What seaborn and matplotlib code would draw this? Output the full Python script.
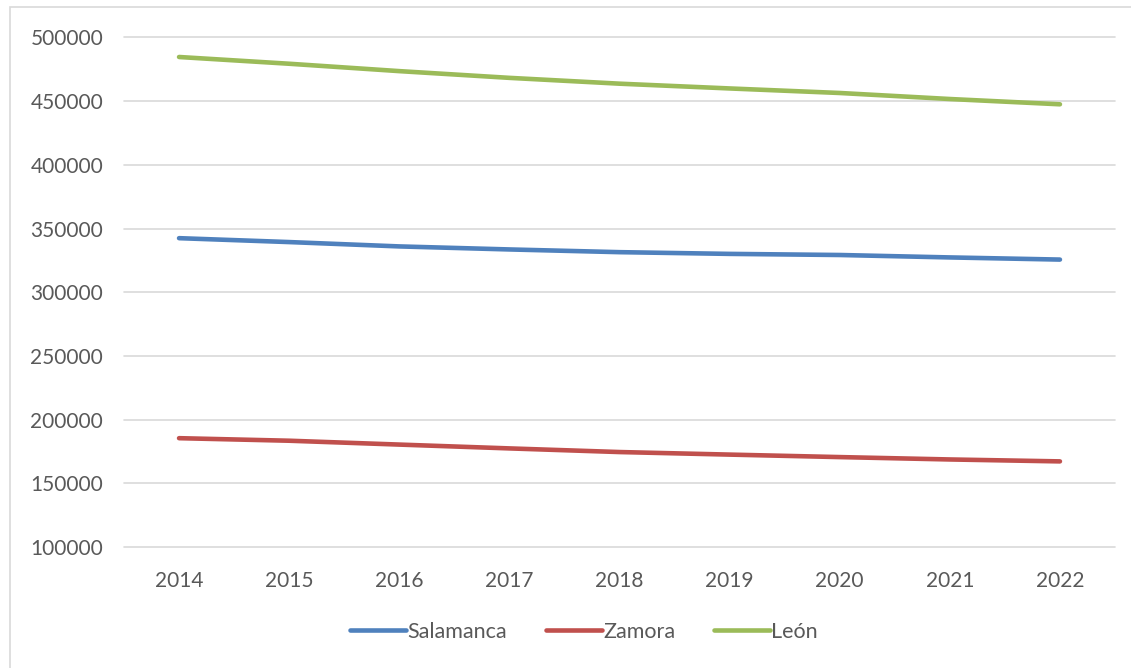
import matplotlib
matplotlib.use("Agg")
import matplotlib.pyplot as plt
import matplotlib.patches as mpatches
import seaborn as sns
import pandas as pd

# datos de poblacion por provincia
years = [2014, 2015, 2016, 2017, 2018, 2019, 2020, 2021, 2022]
salamanca = [342459, 339395, 335985, 333603, 331473, 330119, 329245, 327338, 325648]
zamora = [185432, 183436, 180406, 177404, 174549, 172539, 170588, 168725, 167215]
leon = [484694, 479395, 473604, 468316, 463746, 460001, 456439, 451706, 447560]
provincias = ["Salamanca", "Zamora", "León"]
colores = ["#4F81BD", "#C0504D", "#9BBB59"]

df = pd.DataFrame({
    "pos": list(range(len(years))) * 3,
    "valor": salamanca + zamora + leon,
    "provincia": [p for p in provincias for _ in years],
})

sns.set_style("white")
plt.rcParams["font.family"] = ["Lato", "DejaVu Sans"]

fig = plt.figure(figsize=(11.31, 6.68), dpi=100)
ax = fig.add_axes([124 / 1131, 1 - 547 / 668, (1115 - 124) / 1131, (547 - 37.5) / 668])

sns.lineplot(data=df, x="pos", y="valor", hue="provincia", hue_order=provincias,
             palette=colores, linewidth=3.3, ax=ax, legend=False,
             solid_capstyle="round")

ax.set_xlim(-0.5, len(years) - 0.5)
ax.set_ylim(100000, 500000)
ax.set_yticks(range(100000, 500001, 50000))
ax.set_xticks(range(len(years)))
ax.set_xticklabels([str(y) for y in years])
ax.set_xlabel("")
ax.set_ylabel("")
ax.grid(axis="y", color="#D9D9D9", linewidth=1.2)
for gl in ax.get_ygridlines():
    gl.set_clip_on(False)
ax.set_axisbelow(True)
for s in ax.spines.values():
    s.set_visible(False)
ax.tick_params(axis="both", length=0, labelsize=15, colors="#595959")
ax.tick_params(axis="y", pad=15)
ax.tick_params(axis="x", pad=17)

handles = [plt.Line2D([], [], color=c, linewidth=3.3, solid_capstyle="round") for c in colores]
fig.legend(handles, provincias, loc="center", bbox_to_anchor=(584 / 1131, 1 - 632 / 668),
           ncol=3, frameon=False, fontsize=15.5, labelcolor="#595959",
           handlelength=2.6, handletextpad=0.05, columnspacing=1.8)

# borde del area del grafico
fig.patches.append(mpatches.Rectangle((10 / 1131, -0.01), 1.1, 1 - 7 / 668 + 0.01,
                                      transform=fig.transFigure, fill=False,
                                      edgecolor="#D9D9D9", linewidth=1.2))

fig.savefig("out.png", dpi=100)
